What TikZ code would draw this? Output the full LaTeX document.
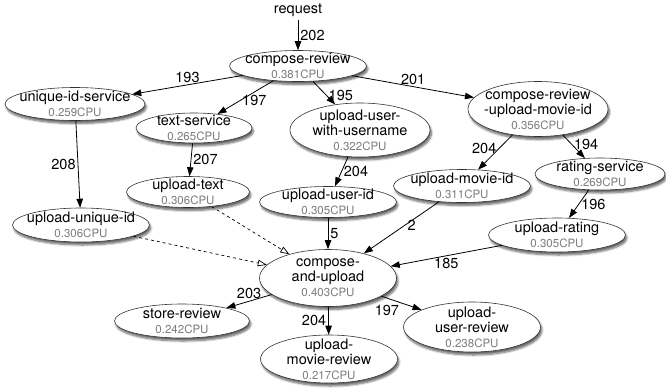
\documentclass[tikz,border=0pt]{standalone}
\usepackage{xcolor}
\usepackage{fontspec}
\setmainfont{TeX Gyre Heros}
\usepackage{tikz}
\usetikzlibrary{arrows.meta,shapes.geometric,shadows.blur}

\definecolor{cpugray}{RGB}{125,125,125}
\newcommand{\cpu}[1]{{\fontsize{11.5}{12}\selectfont\color{cpugray}#1CPU}}

\begin{document}
\begin{tikzpicture}[
				x=1pt, y=-1pt,
				font=\fontsize{14.5}{15}\selectfont,
				service/.style={
					ellipse,
					draw=black!80,
					fill=white,
					line width=0.6pt,
					align=center,
					inner xsep=-30pt,
					inner ysep=-6pt,
					minimum width=137pt,
					minimum height=33pt,
					blur shadow={shadow xshift=1.5pt, shadow yshift=-3pt, shadow blur steps=6, shadow blur radius=2pt, shadow opacity=60}
				},
				call/.style={
					draw=black,
					line width=0.8pt,
					-{Triangle[length=9pt,width=6.5pt]},
					every node/.style={inner sep=2pt}
				},
				async/.style={
					draw=black,
					line width=0.7pt,
					dashed,
					-{Triangle[open,length=9pt,width=6.5pt]}
				}
			]
				\useasboundingbox (0,0) rectangle (666,389);

				\node (req) at (298,10) {request};
				\node[service, minimum height=31pt] (cr) at (298,66) {compose-review\\\cpu{0.381}};
				\node[service, minimum width=140pt] (uid) at (75,104) {unique-id-service\\\cpu{0.259}};
				\node[service, minimum width=116pt, minimum height=30pt] (ts) at (194,128) {text-service\\\cpu{0.265}};
				\node[service, minimum width=140pt, minimum height=54pt] (uuwu) at (360,130) {upload-user-\\with-username\\\cpu{0.322}};
				\node[service, minimum width=140pt, minimum height=55pt] (crum) at (538,109) {compose-review\\-upload-movie-id\\\cpu{0.356}};
				\node[service, minimum width=123pt, minimum height=31pt] (ut) at (188,192) {upload-text\\\cpu{0.306}};
				\node[service, minimum height=31pt] (uui) at (328,202) {upload-user-id\\\cpu{0.305}};
				\node[service] (umi) at (462,186) {upload-movie-id\\\cpu{0.311}};
				\node[service, minimum width=130pt, minimum height=32pt] (rs) at (600,174) {rating-service\\\cpu{0.269}};
				\node[service, minimum height=34pt] (uuid) at (81,225) {upload-unique-id\\\cpu{0.306}};
				\node[service, minimum height=34pt] (ur) at (557,235) {upload-rating\\\cpu{0.305}};
				\node[service, minimum height=57pt] (cau) at (328,278) {compose-\\and-upload\\\cpu{0.403}};
				\node[service, minimum width=135pt, minimum height=34pt] (sr) at (182,321) {store-review\\\cpu{0.242}};
				\node[service, minimum height=48pt] (umr) at (329,359) {upload-\\movie-review\\\cpu{0.217}};
				\node[service, minimum height=50pt] (uur) at (472,327) {upload-\\user-review\\\cpu{0.238}};

				\draw[call]
					(req) to node[right] {202} (cr);

				\draw[call]
					(cr) to node[above] {193} (uid);

				\draw[call]
					(cr) to node[pos=0.6, right] {197} (ts);

				\draw[call]
					(cr) to node[pos=0.6, right] {195} (uuwu);

				\draw[call]
					(cr) to node[above] {201} (crum);

				\draw[call]
					(uid) to node[left] {208} (uuid);

				\draw[call]
					(ts) to node[right] {207} (ut);

				\draw[call]
					(uuwu) to node[right] {204} (uui);

				\draw[call]
					(crum) to node[pos=0.4, left] {204} (umi);

				\draw[call]
					(crum) to node[pos=0.4, right] {194} (rs);

				\draw[call]
					(rs) to node[right] {196} (ur);

				\draw[call]
					(uui) to node[right] {5} (cau);

				\draw[call]
					(umi) to node[pos=0.45, right] {2} (cau);

				\draw[call]
					(ur) to node[below] {185} (cau);

				\draw[async]
					(ut) to (cau);

				\draw[async]
					(uuid) to (cau);

				\draw[call]
					(cau) to node[above] {203} (sr);

				\draw[call]
					(cau) to node[left] {204} (umr);

				\draw[call]
					(cau) to node[below left] {197} (uur);

			\end{tikzpicture}
\end{document}
